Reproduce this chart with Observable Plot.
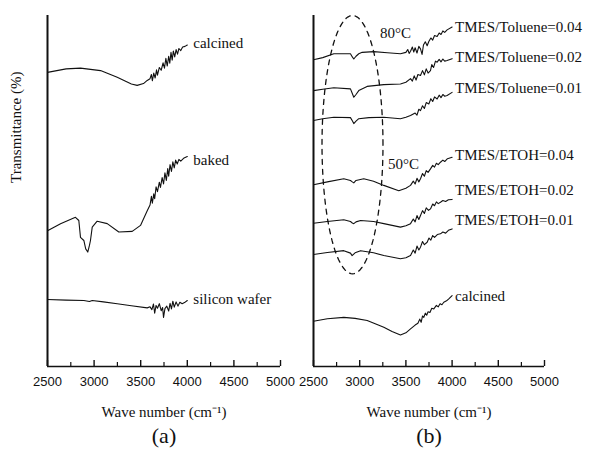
<!DOCTYPE html>
<html><head><meta charset="utf-8">
<script src="https://cdn.jsdelivr.net/npm/d3@7"></script>
<script src="https://cdn.jsdelivr.net/npm/@observablehq/plot@0.6"></script>
<style>
body{margin:0;background:#fff;}
#wrap{position:relative;width:592px;height:457px;overflow:hidden;background:#fff;}
#wrap > svg{position:absolute;top:0;}
</style></head><body><div id="wrap"></div>
<script>
// ---------- data ----------
const xTicks = [2500, 3000, 3500, 4000, 4500, 5000];
const xMinorTicks = [2750, 3250, 3750, 4250, 4750];

// panel (a): [wave number, transmittance (arb. offset units)]
const aCalcined = [[2500,83.8],[2700,84.8],[2854,85.0],[3069,84.3],[3248,82.4],[3400,80.5],[3462,80.1],[3530,80.6],[3570,81.5],[3600,82.0],[3615,83.2],[3625,81.4],[3640,83.6],[3655,82.2],[3670,84.5],[3680,83.0],[3700,85.2],[3720,84.4],[3740,86.5],[3755,85.0],[3770,87.8],[3785,85.6],[3800,88.4],[3812,86.4],[3825,89.5],[3838,87.3],[3850,89.9],[3865,88.2],[3880,90.3],[3895,89.0],[3910,90.6],[3930,90.0],[3950,91.0],[3975,91.2],[4000,91.6]];
const aBaked = [[2500,38.7],[2640,40.7],[2800,42.5],[2836,41.6],[2854,36.8],[2890,35.9],[2910,33.5],[2932,32.6],[2950,34.5],[2961,35.9],[2980,39.7],[3033,41.4],[3141,40.7],[3265,38.3],[3409,38.5],[3498,40.2],[3570,44.4],[3600,46.0],[3615,48.5],[3625,46.5],[3640,49.2],[3650,47.8],[3665,51.2],[3680,49.8],[3700,52.5],[3712,51.0],[3730,53.8],[3745,52.0],[3760,55.2],[3775,53.0],[3790,56.4],[3800,54.2],[3815,57.5],[3830,55.6],[3845,58.3],[3860,56.6],[3875,58.8],[3892,57.7],[3910,59.0],[3930,58.5],[3960,59.3],[4000,59.8]];
const aSilicon = [[2500,19.1],[2700,18.9],[2890,18.8],[2950,18.5],[2980,18.8],[3100,18.4],[3248,17.9],[3400,17.3],[3570,16.7],[3600,17.0],[3620,16.2],[3637,17.8],[3650,15.2],[3665,17.4],[3680,16.6],[3700,17.9],[3720,15.9],[3735,16.8],[3745,14.0],[3760,16.5],[3780,17.2],[3800,15.8],[3815,18.0],[3830,16.4],[3845,18.6],[3860,16.9],[3880,18.4],[3900,17.2],[3920,18.3],[3945,17.9],[3970,18.2],[4000,18.8]];
const aNames = ["calcined", "baked", "silicon wafer"];
const aLabelT = [92.0, 58.7, 19.1];

// panel (b)
const bTol04 = [[2500,87.4],[2600,88.0],[2720,89.1],[2900,89.1],[2920,88.2],[2936,87.6],[2960,88.4],[2990,89.1],[3027,89.5],[3152,89.7],[3300,89.4],[3441,89.1],[3500,89.5],[3520,90.3],[3535,89.2],[3550,89.8],[3570,91.0],[3585,89.6],[3600,90.8],[3620,89.3],[3640,91.2],[3658,90.5],[3675,88.9],[3690,91.6],[3710,92.5],[3730,91.4],[3748,92.6],[3770,93.6],[3790,93.0],[3810,94.3],[3838,94.0],[3860,95.0],[3880,94.6],[3900,95.6],[3920,95.2],[3946,95.9],[4000,96.7]];
const bTol02 = [[2500,78.6],[2600,79.0],[2720,79.4],[2900,79.1],[2920,77.8],[2936,76.7],[2960,77.5],[2990,78.6],[3080,79.8],[3260,80.3],[3441,80.5],[3500,81.0],[3550,82.0],[3570,81.3],[3590,82.8],[3610,81.6],[3630,83.2],[3658,82.9],[3680,84.3],[3700,83.1],[3720,84.8],[3740,83.6],[3766,84.3],[3780,86.0],[3800,85.2],[3820,87.0],[3838,86.7],[3860,87.5],[3880,86.8],[3900,87.6],[3920,87.0],[3946,87.2],[4000,87.7]];
const bTol01 = [[2500,70.1],[2600,70.6],[2720,71.0],[2900,70.9],[2920,70.0],[2936,69.2],[2960,69.9],[2990,70.6],[3100,70.9],[3260,71.0],[3441,70.6],[3500,71.0],[3550,71.5],[3600,72.2],[3620,71.6],[3640,73.3],[3658,72.9],[3680,74.3],[3700,73.5],[3720,75.2],[3748,74.8],[3770,76.3],[3790,75.5],[3810,76.8],[3838,76.2],[3860,77.3],[3880,76.6],[3900,77.5],[3920,77.0],[3946,77.2],[4000,78.1]];
const bEt04 = [[2500,51.8],[2650,52.6],[2828,53.5],[2900,53.0],[2920,52.6],[2936,52.3],[2960,53.0],[3044,53.5],[3150,52.8],[3261,51.6],[3423,50.1],[3500,50.8],[3550,51.6],[3580,52.8],[3600,52.0],[3620,53.6],[3640,52.6],[3658,53.5],[3680,55.0],[3700,54.2],[3720,55.8],[3740,55.3],[3766,56.3],[3790,57.3],[3810,56.8],[3830,57.9],[3850,57.5],[3874,58.2],[3900,58.8],[3920,58.4],[3950,59.2],[4000,59.6]];
const bEt02 = [[2500,40.8],[2650,41.3],[2828,41.8],[2900,41.3],[2920,40.9],[2936,40.7],[2960,41.2],[3010,41.6],[3150,41.3],[3261,40.7],[3441,39.7],[3500,40.1],[3550,40.7],[3580,42.0],[3600,41.2],[3620,43.0],[3640,41.9],[3658,43.0],[3680,44.4],[3700,43.6],[3720,45.2],[3745,44.5],[3766,44.9],[3790,46.3],[3810,45.8],[3830,46.9],[3850,46.4],[3874,46.8],[3900,47.3],[3930,47.0],[3960,47.5],[4000,47.6]];
const bEt01 = [[2500,31.9],[2650,32.5],[2828,33.0],[2900,32.3],[2918,31.6],[2950,32.4],[3010,33.0],[3150,32.4],[3261,31.6],[3441,30.7],[3500,31.0],[3550,31.6],[3580,33.2],[3600,32.3],[3620,34.3],[3640,33.2],[3658,34.0],[3680,35.6],[3700,34.7],[3730,35.4],[3750,36.6],[3770,36.0],[3790,37.3],[3810,36.8],[3840,37.6],[3874,37.8],[3900,38.3],[3930,38.0],[3960,38.8],[4000,39.2]];
const bCalcined = [[2500,12.9],[2650,13.6],[2828,14.0],[2950,13.7],[3081,13.1],[3261,11.2],[3350,10.0],[3441,9.0],[3500,9.6],[3550,10.7],[3600,11.8],[3630,12.3],[3650,13.5],[3665,12.6],[3680,14.4],[3694,14.0],[3710,15.2],[3725,14.6],[3740,15.6],[3760,15.4],[3780,16.6],[3802,16.4],[3830,17.4],[3850,17.0],[3870,17.9],[3890,17.6],[3910,18.3],[3940,18.7],[3970,19.4],[4000,20.2]];
const bNames = ["TMES/Toluene=0.04","TMES/Toluene=0.02","TMES/Toluene=0.01","TMES/ETOH=0.04","TMES/ETOH=0.02","TMES/ETOH=0.01","calcined"];
const bLabelT = [96.6, 88.0, 79.2, 60.1, 50.1, 41.6, 19.9];

// annotation: dashed ellipse [centre wn, centre T, radius wn, radius T] and temperature notes
const ellipse = [2922, 63.2, 330, 36.8];
const tempNotes = ["80°C", "50°C"];
const tempWn = [3387, 3474];
const tempT = [95.0, 57.5];

// ---------- drawing ----------
const SERIF = "Liberation Serif, Times New Roman, serif";
const SANS = "Liberation Sans, Arial, sans-serif";
const H = 457, MT = 15, MB = 91, FH = H - MT - MB;

function rows(seriesList, names) {
  return seriesList.flatMap((s, i) => s.map(([wn, t]) => ({name: names[i], wn, t})));
}

function panel({series, names, labelT, width, marginRight, labelDx, tag, extra = []}) {
  const data = rows(series, names);
  const labels = names.map((n, i) => ({name: n, wn: 4000, t: labelT[i]}));
  return Plot.plot({
    width, height: H,
    marginLeft: 47, marginRight, marginTop: MT, marginBottom: MB,
    style: {background: "transparent", overflow: "visible"},
    x: {domain: [2500, 5000], axis: null},
    y: {domain: [0, 100], axis: null},
    marks: [
      ...extra,
      Plot.line(data, {x: "wn", y: "t", z: "name", stroke: "#111", strokeWidth: 1.1}),
      Plot.text(labels, {x: "wn", y: "t", text: "name", textAnchor: "start", dx: labelDx, fontSize: 15, fontFamily: SERIF, fill: "#111"}),
      Plot.ruleX([2500], {stroke: "#111", strokeWidth: 2}),
      Plot.ruleY([0], {stroke: "#111", strokeWidth: 1.6}),
      Plot.ruleX(xTicks, {stroke: "#111", strokeWidth: 1.4, insetTop: FH - 6}),
      Plot.ruleX(xMinorTicks, {stroke: "#111", strokeWidth: 1.2, insetTop: FH - 4}),
      Plot.axisX(xTicks, {tickSize: 0, tickPadding: 10, fontSize: 13, fontFamily: SANS, tickFormat: d => String(d), label: null, fill: "#111"}),
      Plot.text(["Wave number (cm⁻¹)"], {frameAnchor: "bottom", dy: 50, fontSize: 15, fontFamily: SERIF, fill: "#111"}),
      Plot.text([tag], {frameAnchor: "bottom", dy: 76, fontSize: 22, fontFamily: SERIF, fill: "#111"})
    ]
  });
}

const wrap = document.getElementById("wrap");

const plotA = panel({
  series: [aCalcined, aBaked, aSilicon], names: aNames, labelT: aLabelT,
  width: 300, marginRight: 20, labelDx: 6, tag: "(a)",
  extra: [
    Plot.text(["Transmittance (%)"], {frameAnchor: "left", rotate: -90, dx: -31, dy: -8, fontSize: 15, fontFamily: SERIF, fill: "#111"})
  ]
});
plotA.style.left = "0px";
wrap.appendChild(plotA);

const [ecx, ecy, erx, ery] = ellipse;
const ellipsePts = d3.range(0, 121).map(i => {
  const a = (i / 120) * 2 * Math.PI;
  return {wn: ecx + erx * Math.cos(a), t: ecy + ery * Math.sin(a)};
});
const temps = tempNotes.map((s, i) => ({s, wn: tempWn[i], t: tempT[i]}));

const plotB = panel({
  series: [bTol04, bTol02, bTol01, bEt04, bEt02, bEt01, bCalcined], names: bNames, labelT: bLabelT,
  width: 326, marginRight: 48, labelDx: 3, tag: "(b)",
  extra: [
    Plot.line(ellipsePts, {x: "wn", y: "t", stroke: "#111", strokeWidth: 1.3, strokeDasharray: "5,5"}),
    Plot.text(temps, {x: "wn", y: "t", text: "s", fontSize: 15, fontFamily: SERIF, fill: "#111"})
  ]
});
plotB.style.left = "266px";
wrap.appendChild(plotB);
</script></body></html>
